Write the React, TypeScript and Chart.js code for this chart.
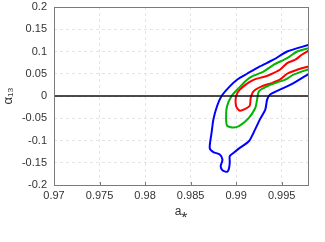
import React, { useEffect, useRef } from "react";
import { Chart, registerables } from "chart.js";

Chart.register(...registerables);

const xTicks = [0.97, 0.975, 0.98, 0.985, 0.99, 0.995];
const xTickLabels = ["0.97", "0.975", "0.98", "0.985", "0.99", "0.995"];
const yTicks = [-0.2, -0.15, -0.1, -0.05, 0, 0.05, 0.1, 0.15, 0.2];
const yTickLabels = ["-0.2", "-0.15", "-0.1", "-0.05", "0", "0.05", "0.1", "0.15", "0.2"];

const blueX = [0.998, 0.9956, 0.9941, 0.9926, 0.9912, 0.9901, 0.9893, 0.9884, 0.9879, 0.9875, 0.9873, 0.9871, 0.9875, 0.9882, 0.9885, 0.9883, 0.9885, 0.989, 0.9892, 0.9893, 0.9893, 0.9897, 0.9904, 0.9914, 0.9919, 0.9926, 0.9932, 0.9934, 0.9937, 0.9948, 0.9963, 0.998];
const blueY = [0.115, 0.1, 0.0815, 0.0665, 0.05, 0.0366, 0.0217, 0, -0.023, -0.053, -0.083, -0.117, -0.126, -0.1315, -0.143, -0.158, -0.1667, -0.1704, -0.1637, -0.15, -0.135, -0.128, -0.1166, -0.1016, -0.083, -0.053, -0.0306, -0.0082, 0.003, 0.0142, 0.029, 0.05];

const greenX = [0.998, 0.9967, 0.9956, 0.9941, 0.993, 0.9919, 0.9912, 0.9903, 0.9895, 0.989, 0.9889, 0.989, 0.9897, 0.9904, 0.9914, 0.9921, 0.9923, 0.9925, 0.9934, 0.9945, 0.9954, 0.9963, 0.998];
const greenY = [0.1076, 0.1, 0.085, 0.07, 0.055, 0.0456, 0.0366, 0.018, 0, -0.023, -0.0456, -0.0665, -0.071, -0.0665, -0.049, -0.027, -0.0082, 0.0105, 0.0217, 0.0306, 0.0366, 0.048, 0.0605];

const redX = [0.998, 0.9972, 0.9965, 0.9956, 0.9948, 0.9937, 0.993, 0.9921, 0.9914, 0.9904, 0.99, 0.99, 0.9904, 0.991, 0.9915, 0.9916, 0.9919, 0.9928, 0.9939, 0.9948, 0.9956, 0.9967, 0.998];
const redY = [0.1024, 0.0927, 0.0815, 0.074, 0.059, 0.0478, 0.0426, 0.038, 0.0306, 0.0142, 0, -0.023, -0.033, -0.029, -0.0217, -0.0045, 0.0105, 0.0217, 0.029, 0.0366, 0.05, 0.059, 0.0665];

const zeroX = [0.97, 0.998];
const zeroY = [0, 0];

const pts = (xs: number[], ys: number[]) => xs.map((x, i) => ({ x, y: ys[i] }));

const framePlugin = {
  id: "frame",
  afterDatasetsDraw(chart: any) {
    const { ctx, chartArea } = chart;
    const { left, right, top, bottom } = chartArea;
    ctx.save();
    ctx.strokeStyle = "#7a7a7a";
    ctx.lineWidth = 1;
    ctx.strokeRect(Math.round(left) + 0.5, Math.round(top) + 0.5, Math.round(right - left) - 1, Math.round(bottom - top));
    const xs = chart.scales.x;
    ctx.beginPath();
    xTicks.forEach((v) => {
      const px = Math.round(xs.getPixelForValue(v)) + 0.5;
      ctx.moveTo(px, bottom);
      ctx.lineTo(px, bottom - 3);
    });
    ctx.stroke();
    ctx.restore();
  },
};

export default function App() {
  const ref = useRef<HTMLCanvasElement>(null);
  useEffect(() => {
    if (!ref.current) return;
    const font = { family: "'Liberation Sans', Arial, sans-serif", size: 11 };
    const chart = new Chart(ref.current, {
      type: "scatter",
      data: {
        datasets: [
          { data: pts(zeroX, zeroY), borderColor: "#111111", borderWidth: 1.3, showLine: true, pointRadius: 0, tension: 0 },
          { data: pts(blueX, blueY), borderColor: "#0000ff", borderWidth: 2, showLine: true, pointRadius: 0, tension: 0.25 },
          { data: pts(greenX, greenY), borderColor: "#00b400", borderWidth: 2, showLine: true, pointRadius: 0, tension: 0.25 },
          { data: pts(redX, redY), borderColor: "#ff0000", borderWidth: 2, showLine: true, pointRadius: 0, tension: 0.25 },
        ],
      },
      options: {
        animation: false,
        responsive: false,
        maintainAspectRatio: false,
        layout: { padding: { top: 7, right: 16, bottom: 0, left: 0 } },
        plugins: { legend: { display: false }, tooltip: { enabled: false } },
        scales: {
          x: {
            type: "linear",
            min: 0.97,
            max: 0.998,
            afterBuildTicks: (s: any) => {
              s.ticks = xTicks.map((v) => ({ value: v }));
            },
            afterFit: (s: any) => {
              s.height = 57;
              s.paddingLeft = 0;
              s.paddingRight = 0;
            },
            ticks: {
              font,
              color: "#333333",
              padding: 4,
              maxRotation: 0,
              autoSkip: false,
              callback: (v: any) => {
                const i = xTicks.findIndex((t) => Math.abs(t - Number(v)) < 1e-9);
                return i >= 0 ? xTickLabels[i] : "";
              },
            },
            grid: { color: "#e4e4e4", drawTicks: false },
            border: { display: false, dash: [3, 3] },
            title: { display: true, text: "a⁎", font: { family: "'Liberation Sans', Arial, sans-serif", size: 12 }, color: "#333333", padding: { top: 0, bottom: 23 } },
          },
          y: {
            type: "linear",
            min: -0.2,
            max: 0.2,
            afterBuildTicks: (s: any) => {
              s.ticks = yTicks.map((v) => ({ value: v }));
            },
            afterFit: (s: any) => {
              s.width = 54;
              s.paddingTop = 0;
              s.paddingBottom = 0;
            },
            ticks: {
              font,
              color: "#333333",
              padding: 7,
              autoSkip: false,
              callback: (v: any) => {
                const i = yTicks.findIndex((t) => Math.abs(t - Number(v)) < 1e-9);
                return i >= 0 ? yTickLabels[i] : "";
              },
            },
            grid: { color: "#e4e4e4", drawTicks: false },
            border: { display: false, dash: [3, 3] },
            title: { display: true, text: "α₁₃", font: { family: "'Liberation Sans', Arial, sans-serif", size: 13 }, color: "#333333", padding: { top: 1, bottom: 0 } },
          },
        },
      },
      plugins: [framePlugin],
    } as any);
    return () => chart.destroy();
  }, []);
  return (
    <div style={{ position: "fixed", left: 0, top: 0, width: 325, height: 242, background: "#fff" }}>
      <canvas ref={ref} width={325} height={242} style={{ display: "block" }} />
    </div>
  );
}
